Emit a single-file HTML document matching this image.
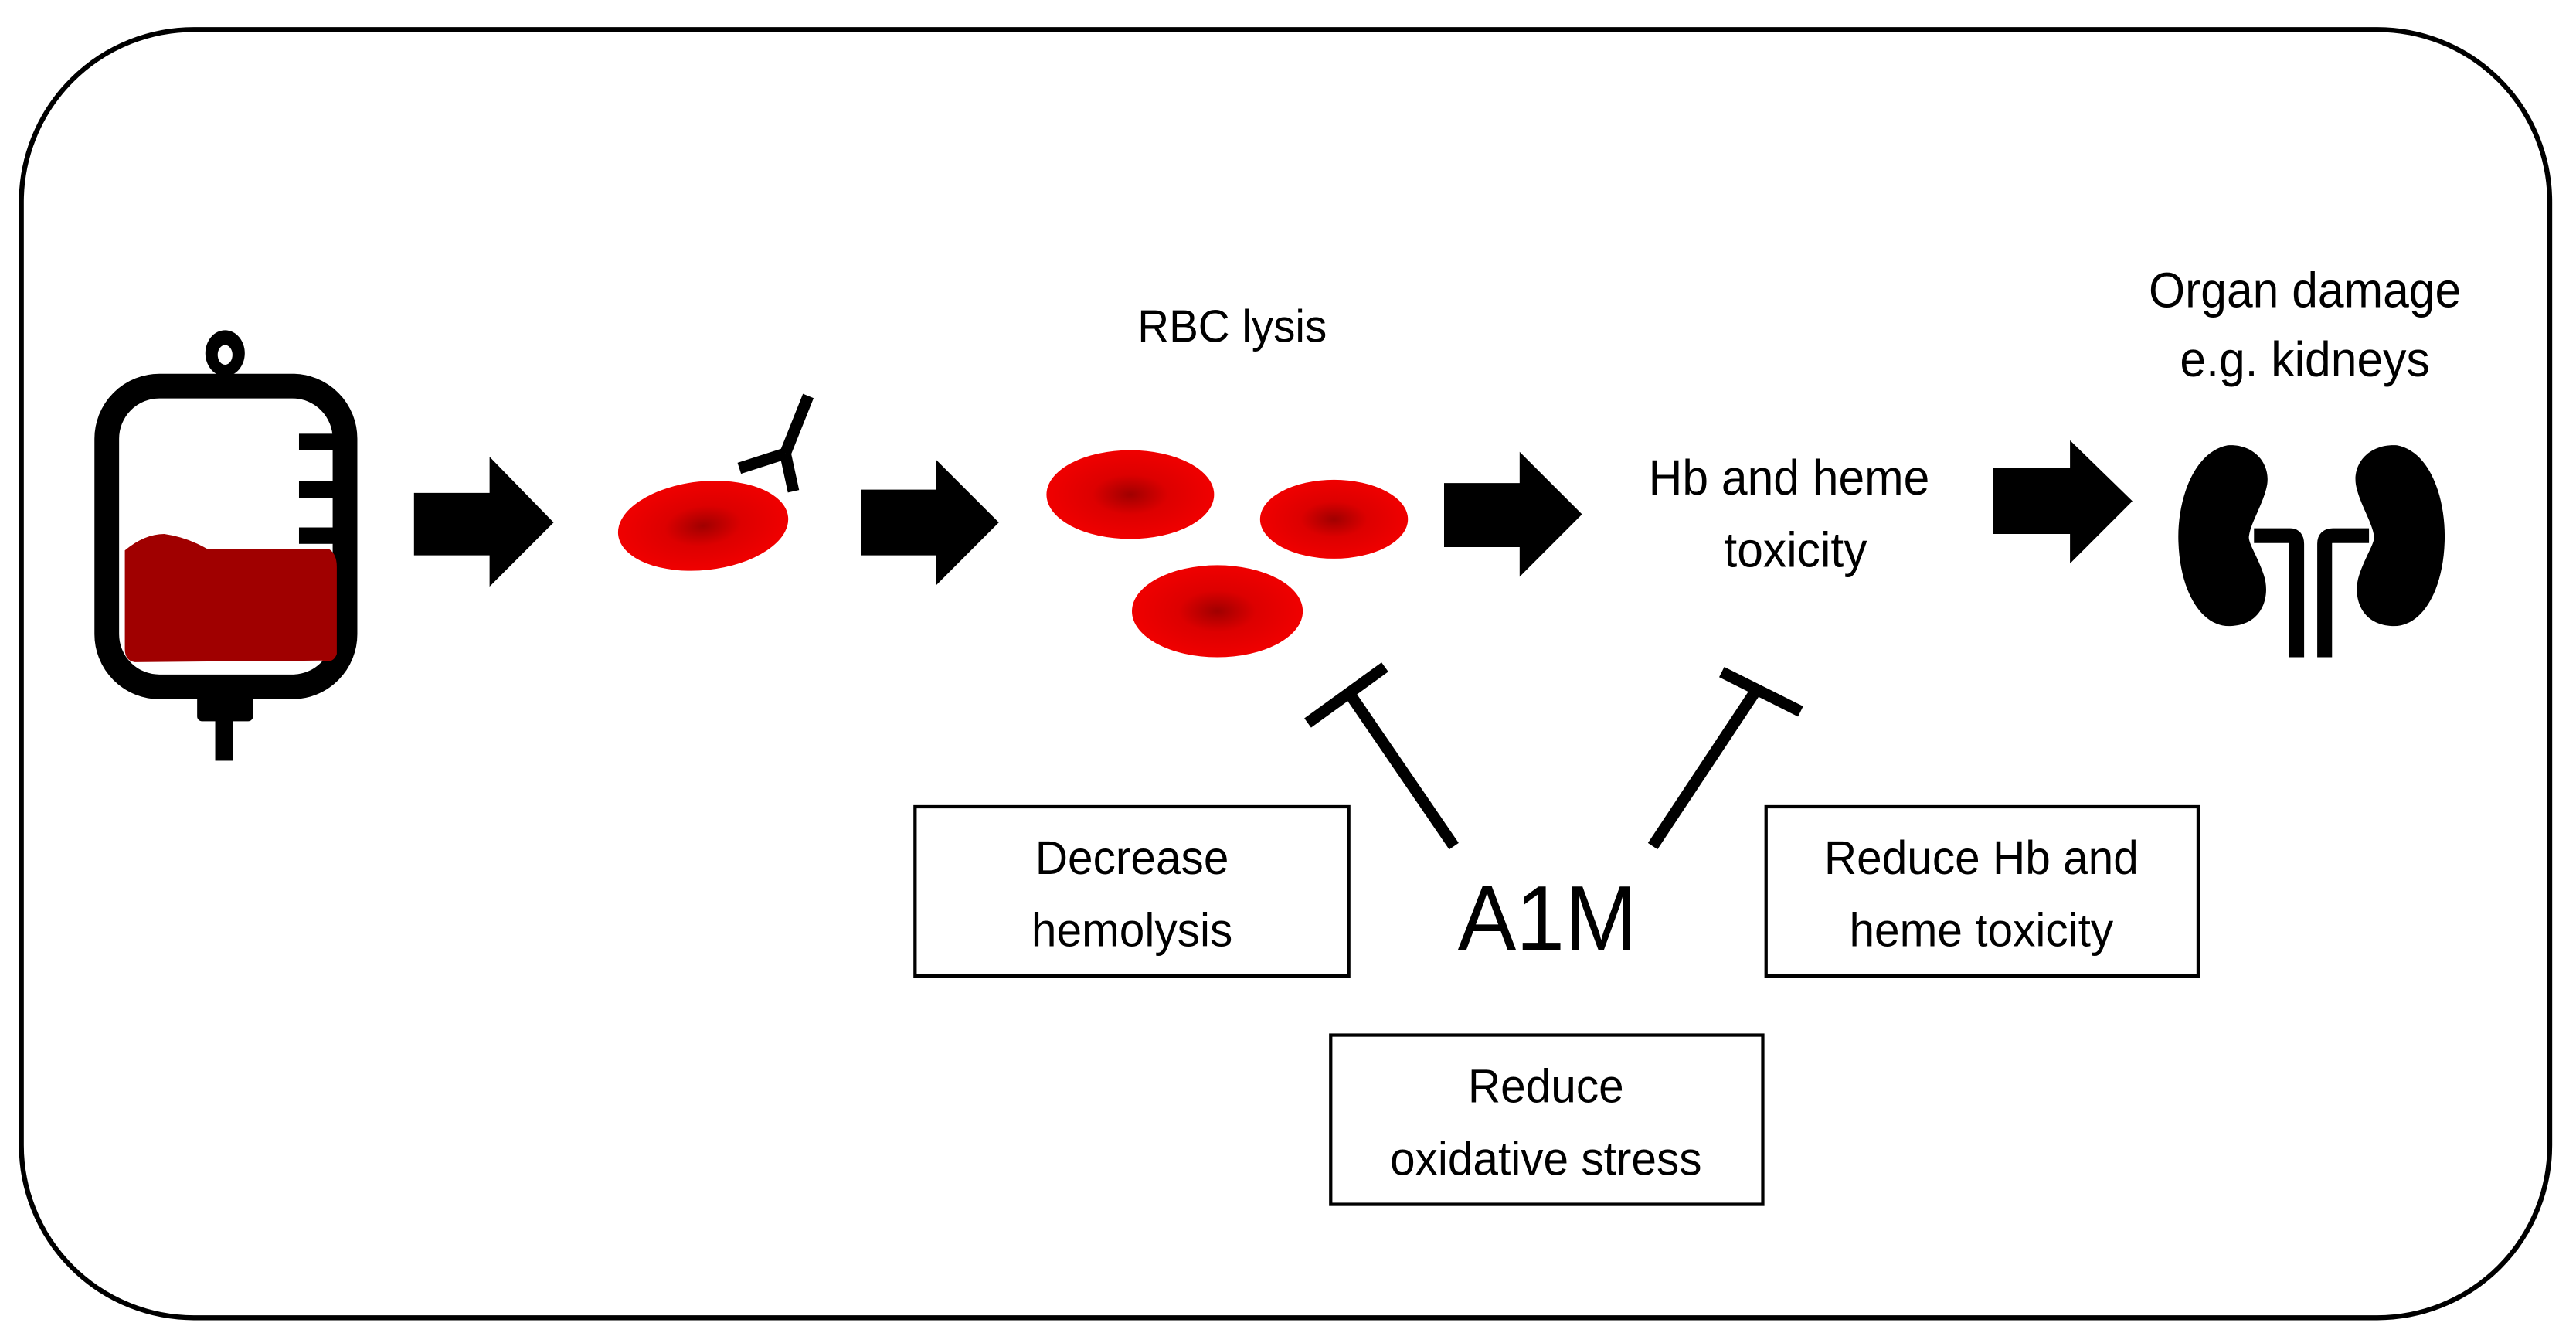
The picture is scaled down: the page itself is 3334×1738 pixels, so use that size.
<!DOCTYPE html>
<html><head><meta charset="utf-8"><style>
html,body{margin:0;padding:0;background:#fff;}
svg{display:block;}
text{font-family:"Liberation Sans",sans-serif;fill:#000;}
</style></head><body>
<svg width="3334" height="1738" viewBox="0 0 1568 817.4" preserveAspectRatio="none" xmlns="http://www.w3.org/2000/svg">
<defs>
<radialGradient id="rbc" cx="50%" cy="50%" r="50%">
<stop offset="0" stop-color="#a00000"/>
<stop offset="0.45" stop-color="#dd0000"/>
<stop offset="1" stop-color="#f00000"/>
</radialGradient>
</defs>
<rect x="13" y="18" width="1539" height="784" rx="105" ry="105" fill="#fff" stroke="#000" stroke-width="3"/>
<!-- Blood bag -->
<ellipse cx="137" cy="215" rx="12" ry="14" fill="#000"/>
<ellipse cx="137" cy="216" rx="4.5" ry="6" fill="#fff"/>
<rect x="65" y="235" width="145" height="183" rx="32" fill="#fff" stroke="#000" stroke-width="15"/>
<rect x="182" y="264" width="23" height="10" fill="#000"/>
<rect x="182" y="293" width="23" height="10" fill="#000"/>
<rect x="182" y="321" width="23" height="10" fill="#000"/>
<path d="M76 335 Q88 325 100 325 Q114 327 126 334 L200 334 Q205 337 205 345 L205 398 Q203 404 196 402 L82 403 Q76 402 76 395 Z" fill="#a00000"/>
<rect x="120" y="423" width="34" height="16" rx="3" fill="#000"/>
<rect x="131" y="438" width="11" height="25" fill="#000"/>
<!-- arrows -->
<polygon points="252,300 298,300 298,278 337,318 298,357 298,338 252,338" fill="#000"/>
<polygon points="524,298 570,298 570,280 608,318 570,356 570,338 524,338" fill="#000"/>
<polygon points="879,294 925,294 925,275 963,313 925,351 925,333 879,333" fill="#000"/>
<polygon points="1213,285 1260,285 1260,268 1298,305 1260,343 1260,325 1213,325" fill="#000"/>
<!-- RBC 1 + antibody -->
<ellipse cx="428" cy="320" rx="52" ry="27" fill="url(#rbc)" transform="rotate(-6 428 320)"/>
<g stroke="#000" stroke-width="7" fill="none">
<line x1="478" y1="276" x2="492" y2="241"/>
<line x1="478" y1="276" x2="450" y2="285"/>
<line x1="478" y1="276" x2="483" y2="299"/>
</g>
<!-- RBC group -->
<ellipse cx="688" cy="301" rx="51" ry="27" fill="url(#rbc)"/>
<ellipse cx="812" cy="316" rx="45" ry="24" fill="url(#rbc)"/>
<ellipse cx="741" cy="372" rx="52" ry="28" fill="url(#rbc)"/>
<g transform="scale(0.95 1)">
<text x="789.5" y="208" font-size="28" text-anchor="middle">RBC lysis</text>
<text x="1146.3" y="301" font-size="30" text-anchor="middle">Hb and heme</text>
<text x="1150.5" y="345" font-size="30" text-anchor="middle">toxicity</text>
<text x="1476.8" y="187" font-size="30" text-anchor="middle">Organ damage</text>
<text x="1476.8" y="229" font-size="30" text-anchor="middle">e.g. kidneys</text>
<text x="991.6" y="578" font-size="56" text-anchor="middle">A1M</text>
</g>
<!-- kidneys -->
<path d="M1356 271 C1335 275 1325 305 1326 330 C1327 360 1340 382 1358 381 C1378 380 1382 362 1378 350 C1374 338 1368 330 1369 326 C1370 318 1378 306 1380 295 C1382 282 1372 270 1356 271 Z" fill="#000"/>
<path d="M1459 271 C1480 275 1489 305 1488 330 C1487 360 1474 382 1456 381 C1436 380 1432 362 1436 350 C1440 338 1446 330 1445 326 C1444 318 1436 306 1434 295 C1432 282 1442 270 1459 271 Z" fill="#000"/>
<path d="M1372 326 L1394 326 Q1398 326 1398 331 L1398 400" stroke="#000" stroke-width="9" fill="none"/>
<path d="M1442 326 L1420 326 Q1415 326 1415 331 L1415 400" stroke="#000" stroke-width="9" fill="none"/>
<!-- inhibitors -->
<g stroke="#000" stroke-width="7" fill="none">
<line x1="885" y1="515" x2="820" y2="420"/>
<line x1="796" y1="440" x2="843" y2="406"/>
<line x1="1006" y1="515" x2="1069" y2="420"/>
<line x1="1048" y1="409" x2="1096" y2="433"/>
</g>
<!-- boxes -->
<rect x="557" y="491" width="264" height="103" fill="#fff" stroke="#000" stroke-width="2"/>
<rect x="1075" y="491" width="263" height="103" fill="#fff" stroke="#000" stroke-width="2"/>
<rect x="810" y="630" width="263" height="103" fill="#fff" stroke="#000" stroke-width="2"/>
<g transform="scale(0.95 1)">
<text x="725.3" y="532" font-size="29" text-anchor="middle">Decrease</text>
<text x="725.3" y="576" font-size="29" text-anchor="middle">hemolysis</text>
<text x="1269.5" y="532" font-size="29" text-anchor="middle">Reduce Hb and</text>
<text x="1269.5" y="576" font-size="29" text-anchor="middle">heme toxicity</text>
<text x="990.5" y="671" font-size="29" text-anchor="middle">Reduce</text>
<text x="990.5" y="715" font-size="29" text-anchor="middle">oxidative stress</text>
</g>
</svg>
</body></html>
